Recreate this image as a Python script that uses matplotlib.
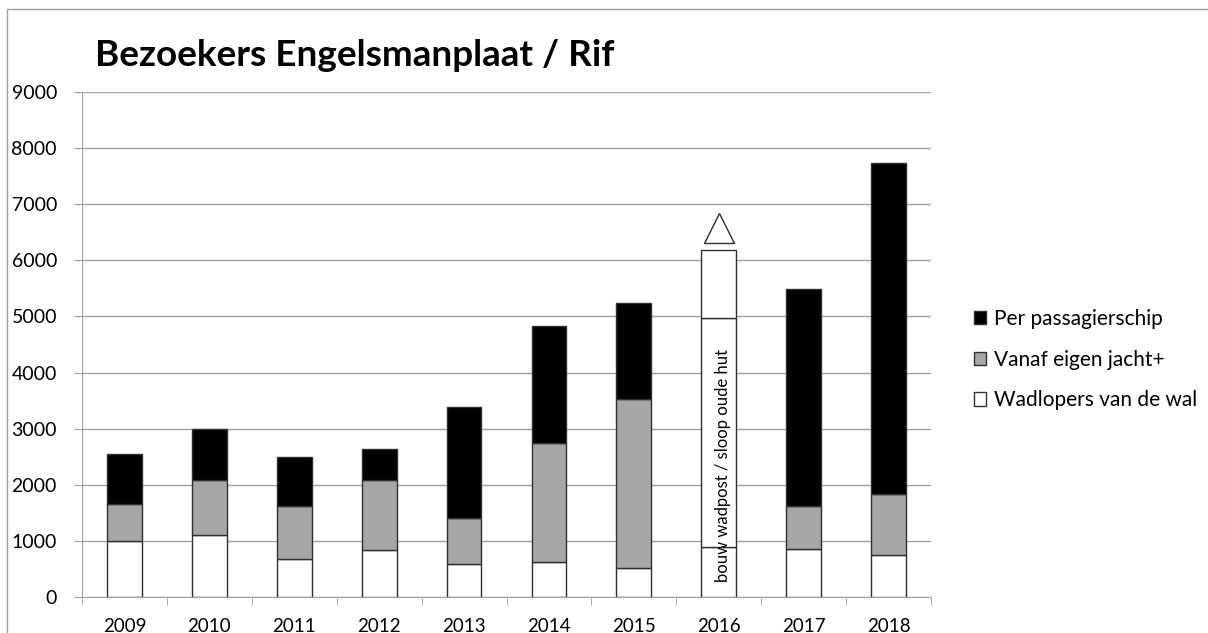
import numpy as np
import matplotlib
matplotlib.use('Agg')
import matplotlib.pyplot as plt
from matplotlib.patches import Rectangle, Patch

plt.rcParams['font.family'] = ['Lato', 'DejaVu Sans']

years = ['2009', '2010', '2011', '2012', '2013', '2014', '2015', '2016', '2017', '2018']
wadlopers = [1000, 1100, 675, 835, 595, 630, 515, 895, 850, 745]
jacht = [655, 985, 945, 1250, 820, 2110, 3010, 4075, 765, 1090]
schip = [895, 910, 870, 560, 1965, 2085, 1720, 1210, 3880, 5905]
marker_2016 = 6580
note_2016 = 'bouw wadpost / sloop oude hut'

W, H = 1208, 633
fig = plt.figure(figsize=(W/100, H/100), dpi=100)
ax = fig.add_axes([82/W, 1-597/H, (931-82)/W, (597-92)/H])

x = np.arange(len(years))
wad = np.array(wadlopers)
ja = np.array(jacht)
sc = np.array(schip)

grey = '#a6a6a6'
c_ja = [grey]*len(years)
c_sc = ['black']*len(years)
c_ja[7] = 'white'
c_sc[7] = 'white'

bw = 0.41
ax.bar(x, wad, bw, color='white', edgecolor='#303030', lw=1, zorder=3)
ax.bar(x, ja, bw, bottom=wad, color=c_ja, edgecolor='#303030', lw=1, zorder=3)
ax.bar(x, sc, bw, bottom=wad+ja, color=c_sc, edgecolor='#303030', lw=1, zorder=3)

ax.plot(7, marker_2016, marker='^', ms=21, mfc='white', mec='#303030', mew=1, zorder=4)
ax.text(7.05, 2350, note_2016, rotation=90, ha='center', va='center', fontsize=12, zorder=5)

ax.set_xlim(-0.5, 9.5)
ax.set_ylim(0, 9000)
ax.set_yticks(np.arange(0, 9001, 1000))
ax.yaxis.grid(True, color='#a0a0a0', lw=1)
ax.set_axisbelow(True)
ax.set_xticks(x)
ax.set_xticklabels(years)
ax.set_xticks(np.arange(-0.5, 10, 1), minor=True)
ax.tick_params(axis='x', which='major', length=0, pad=15, labelsize=13.5)
ax.tick_params(axis='x', which='minor', length=6, color='#a0a0a0', direction='out')
ax.tick_params(axis='y', length=6, color='#a0a0a0', pad=12, labelsize=14)
for s in ['top', 'right']:
    ax.spines[s].set_visible(False)
ax.spines['left'].set_color('#a0a0a0')
ax.spines['bottom'].set_color('#a0a0a0')

fig.text(95/W, 1-56/H, 'Bezoekers Engelsmanplaat / Rif', fontsize=26.6, fontweight='bold', va='center')

handles = [Patch(facecolor='black', edgecolor='#303030'),
           Patch(facecolor=grey, edgecolor='#303030'),
           Patch(facecolor='white', edgecolor='#303030')]
labels = ['Per passagierschip', 'Vanaf eigen jacht+', 'Wadlopers van de wal']
fig.legend(handles, labels, loc='upper left', bbox_to_anchor=(955/W, 1-290/H), frameon=False,
           fontsize=15, handlelength=0.6, handleheight=0.6, handletextpad=0.35, labelspacing=1.0)

fig.add_artist(Rectangle((7/W, -0.1), 1.2, 1-9/H+0.1, transform=fig.transFigure,
                         fill=False, edgecolor='#a0a0a0', lw=1))

fig.savefig('out.png', dpi=100)
